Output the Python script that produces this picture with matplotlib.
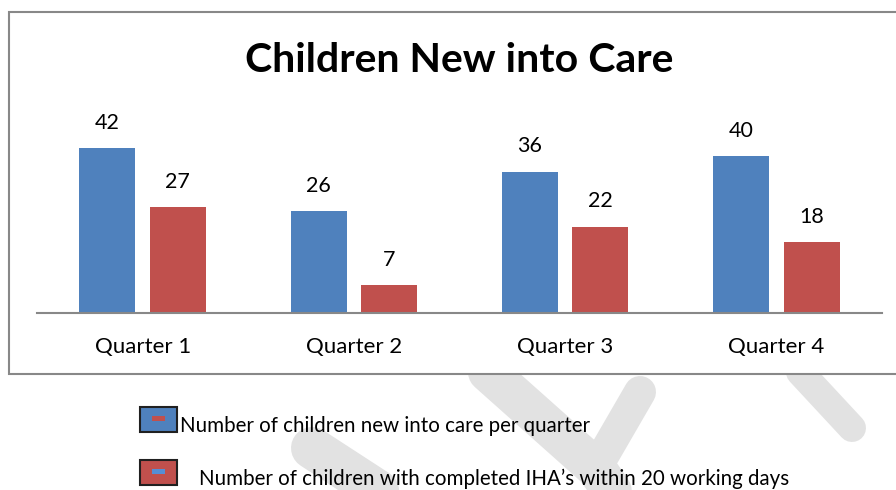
import matplotlib
matplotlib.use('Agg')
import matplotlib.pyplot as plt
from matplotlib.patches import Rectangle
import numpy as np

plt.rcParams['font.family'] = ['Lato', 'DejaVu Sans']

# data
quarters = ['Quarter 1', 'Quarter 2', 'Quarter 3', 'Quarter 4']
new_into_care = [42, 26, 36, 40]
iha_within_20 = [27, 7, 22, 18]
series_names = ['Number of children new into care per quarter',
                'Number of children with completed IHA\u2019s within 20 working days']

blue = '#4F81BD'
red = '#C0504D'
grey_line = '#888888'

W, H = 896, 490
fig = plt.figure(figsize=(W / 100, H / 100), dpi=100)


def px(x, y):
    # pixel position (top-left origin) -> figure fraction
    return x / W, 1 - y / H


# faint watermark strokes behind everything
wm = '#e2e2e2'
strokes = [((488, 372), (598, 470), 40),
           ((640, 392), (596, 468), 32),
           ((596, 468), (618, 500), 40),
           ((312, 448), (392, 500), 42),
           ((800, 372), (852, 428), 28)]
for (x0, y0), (x1, y1), w in strokes:
    fig.add_artist(plt.Line2D([x0 / W, x1 / W], [1 - y0 / H, 1 - y1 / H],
                              color=wm, lw=w * 0.72, solid_capstyle='round',
                              zorder=0))

# chart frame
fx, fy = px(9, 374)
fig.add_artist(Rectangle((fx, fy), 1.2 - fx, (374 - 12) / H,
                         facecolor='white', edgecolor=grey_line, lw=1.5,
                         zorder=1))

# plot area
x_left, x_right, y_base = 37, 882, 313
ymax = 50
px_per_unit = 3.93
ax = fig.add_axes([x_left / W, 1 - y_base / H, (x_right - x_left) / W,
                   ymax * px_per_unit / H])
ax.set_zorder(2)
ax.patch.set_visible(False)

x = np.arange(len(quarters))
bw = 0.265
off = 0.167
b1 = ax.bar(x - off, new_into_care, bw, color=blue)
b2 = ax.bar(x + off, iha_within_20, bw, color=red)
for bars in (b1, b2):
    for r in bars:
        ax.annotate(str(int(r.get_height())),
                    (r.get_x() + r.get_width() / 2, r.get_height()),
                    xytext=(0, 11), textcoords='offset points',
                    ha='center', va='bottom', fontsize=15.5)

ax.set_xlim(-0.5, len(quarters) - 0.5)
ax.set_ylim(0, ymax)
ax.set_xticks(x)
ax.set_xticklabels(quarters, fontsize=16)
ax.tick_params(axis='x', length=0, pad=17)
ax.set_yticks([])
for s in ('top', 'left', 'right'):
    ax.spines[s].set_visible(False)
ax.spines['bottom'].set_color(grey_line)
ax.spines['bottom'].set_linewidth(1.5)

# title
tx, ty = px(459, 61)
fig.text(tx, ty, 'Children New into Care', ha='center', va='center',
         fontsize=29.5, fontweight='bold', zorder=3)

# legend below the frame, swatches with the odd inner dashes
legend = [(blue, red, 407, 180), (red, '#558ED5', 460, 199)]
for (face, dash, top, text_x), name in zip(legend, series_names):
    sx, sy = px(140, top + 25)
    fig.add_artist(Rectangle((sx, sy), 37 / W, 25 / H, facecolor=face,
                             edgecolor='#202020', lw=1.5, zorder=4))
    dx, dy = px(152, top + 14)
    fig.add_artist(Rectangle((dx, dy), 13 / W, 5 / H, facecolor=dash,
                             edgecolor='none', zorder=5))
    lx, ly = px(text_x, top + 19)
    fig.text(lx, ly, name, ha='left', va='center', fontsize=14.8, zorder=3)

fig.savefig('out.png', dpi=100)
